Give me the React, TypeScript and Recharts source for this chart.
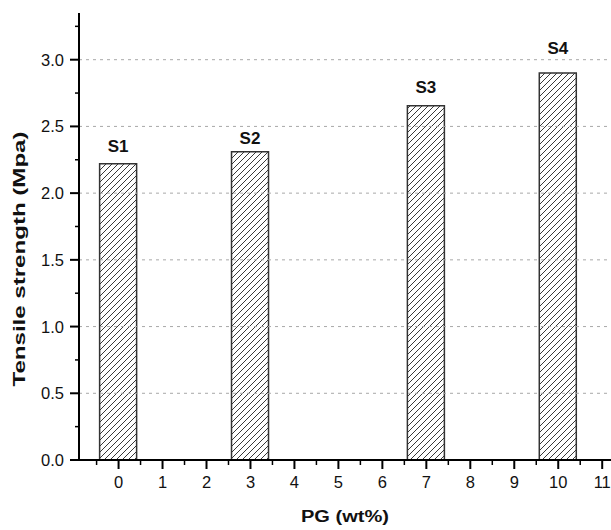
import { ComposedChart, Bar, XAxis, YAxis, ReferenceLine, LabelList, Label } from 'recharts';

const pgContent = [0, 3, 7, 10];
const tensileStrength = [2.22, 2.31, 2.655, 2.9];
const sampleNames = ['S1', 'S2', 'S3', 'S4'];

const xTicks = [-0.5, 0, 0.5, 1, 1.5, 2, 2.5, 3, 3.5, 4, 4.5, 5, 5.5, 6, 6.5, 7, 7.5, 8, 8.5, 9, 9.5, 10, 10.5, 11];
const yTicks = [0, 0.25, 0.5, 0.75, 1, 1.25, 1.5, 1.75, 2, 2.25, 2.5, 2.75, 3, 3.25];
const gridValues = [0.5, 1, 1.5, 2, 2.5, 3];

// label gaps above each bar (the original labels were placed by hand)
const labelGap = [12, 8, 13, 19];

const data = pgContent.map((pg, i) => ({ pg, ts: tensileStrength[i], name: sampleNames[i] }));

const isMajor = (v: number, step: number) => Math.abs(v / step - Math.round(v / step)) < 1e-9;

function XTick(props: any) {
  const { x, y, payload } = props;
  const v = payload.value as number;
  const major = isMajor(v, 1);
  return (
    <g>
      <line x1={x} x2={x} y1={y} y2={y + (major ? 9 : 5)} stroke="#000" strokeWidth={major ? 2 : 1.5} />
      {major && (
        <text x={x} y={y + 28} textAnchor="middle" fontSize={16.5} fill="#111">
          {v}
        </text>
      )}
    </g>
  );
}

function YTick(props: any) {
  const { x, y, payload } = props;
  const v = payload.value as number;
  const major = isMajor(v, 0.5);
  return (
    <g>
      <line x1={x - (major ? 9 : 4)} x2={x} y1={y} y2={y} stroke="#000" strokeWidth={major ? 2 : 1.5} />
      {major && (
        <text x={x - 15} y={y} dy="0.36em" textAnchor="end" fontSize={16.5} fill="#111">
          {v.toFixed(1)}
        </text>
      )}
    </g>
  );
}

export default function App() {
  return (
    <div style={{ position: 'absolute', left: 0, top: 0, width: 611, height: 530, background: '#fff', fontFamily: '"Liberation Sans", Arial, sans-serif' }}>
      <ComposedChart width={611} height={530} data={data} margin={{ top: 13, right: 0, bottom: 0, left: 0 }}>
        <defs>
          <pattern id="hatch" patternUnits="userSpaceOnUse" width="6" height="6">
            <rect width="6" height="6" fill="#fff" />
            <path d="M0,6 L6,0 M-1,1 L1,-1 M5,7 L7,5" stroke="#222" strokeWidth="0.9" />
          </pattern>
        </defs>
        {gridValues.map((v) => (
          <ReferenceLine key={v} y={v} stroke="#a8a8a8" strokeDasharray="3 4" strokeWidth={1} />
        ))}
        <XAxis
          dataKey="pg"
          type="number"
          domain={[-0.9, 11.2]}
          allowDataOverflow
          ticks={xTicks}
          interval={0}
          height={70}
          tickSize={0}
          tickMargin={0}
          tickLine={false}
          axisLine={{ stroke: '#000', strokeWidth: 2 }}
          tick={<XTick />}
        >
          <Label
            content={() => (
              <text x={345} y={522} textAnchor="middle" fontSize={16} fontWeight="bold" fill="#111" textLength={88} lengthAdjust="spacingAndGlyphs">
                PG (wt%)
              </text>
            )}
          />
        </XAxis>
        <YAxis
          type="number"
          domain={[0, 3.35]}
          allowDataOverflow
          ticks={yTicks}
          interval={0}
          width={79}
          tickSize={0}
          tickMargin={0}
          tickLine={false}
          axisLine={{ stroke: '#000', strokeWidth: 2 }}
          tick={<YTick />}
        >
          <Label
            content={() => (
              <text
                x={19}
                y={259}
                transform="rotate(-90 19 259)"
                dy="0.35em"
                textAnchor="middle"
                fontSize={16}
                fontWeight="bold"
                fill="#111"
                textLength={255}
                lengthAdjust="spacingAndGlyphs"
              >
                Tensile strength (Mpa)
              </text>
            )}
          />
        </YAxis>
        <Bar dataKey="ts" barSize={37} fill="url(#hatch)" stroke="#333" strokeWidth={1.5} isAnimationActive={false}>
          <LabelList
            dataKey="name"
            content={(p: any) => (
              <text
                x={p.x + p.width / 2}
                y={p.y - labelGap[p.index]}
                textAnchor="middle"
                fontSize={17}
                fontWeight="bold"
                fill="#111"
              >
                {p.value}
              </text>
            )}
          />
        </Bar>
      </ComposedChart>
    </div>
  );
}
